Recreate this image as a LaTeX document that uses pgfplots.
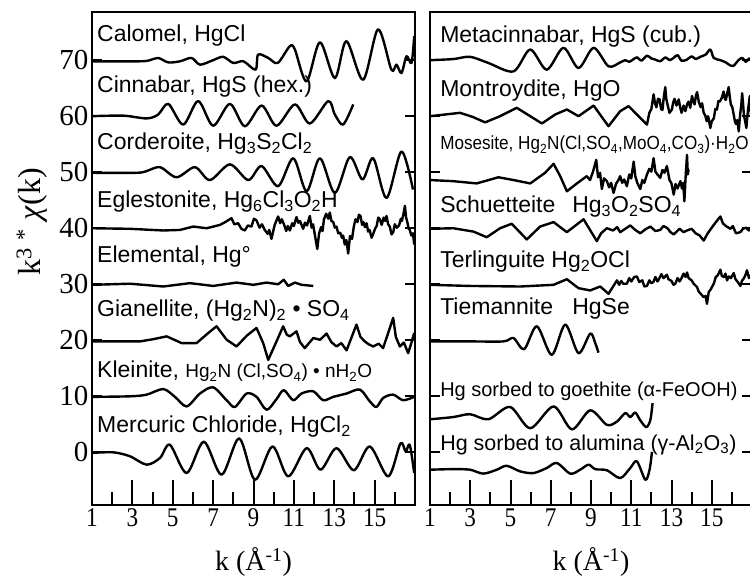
\documentclass[border=0pt]{standalone}
\usepackage{fontspec}
\setmainfont{Liberation Serif}
\newfontfamily\sansfam{Liberation Sans}
\newfontfamily\sanscond[FakeStretch=0.9]{Liberation Sans}
\newfontfamily\xtickfam[FakeStretch=0.86]{Liberation Serif}
\usepackage{pgfplots}
\pgfplotsset{compat=1.18}

\newcommand\lbl{\sansfam\fontsize{23}{23}\selectfont}
\newcommand\lbs{\sansfam\fontsize{19}{19}\selectfont}

\pgfplotsset{
  panel/.style={
    scale only axis, height=493pt,
    xmin=1, xmax=17, ymin=-9.5, ymax=78.5,
    axis line style={line width=2.4pt},
    tick align=inside,
    xtick={1,3,...,15}, minor xtick={2,4,...,16},
    xtick pos=left, ytick pos=both,
    ytick={0,10,...,70},
    major tick length=10pt, minor tick length=13pt,
    xtick style={/pgfplots/major tick length=25pt},
    every tick/.style={black, line width=2pt},
    x tick label style={font=\xtickfam\fontsize{27}{27}\selectfont},
    y tick label style={font=\fontsize{29}{29}\selectfont},
    /pgf/number format/assume math mode=true,
    xlabel={k (Å\textsuperscript{-1})},
    xlabel style={font=\fontsize{28}{28}\selectfont, at={(axis description cs:0.5,-0.132)}, anchor=base},
  },
  spec/.style={black, line width=2.4pt, line join=round, mark=none},
}

\begin{document}
\begin{tikzpicture}
\useasboundingbox (0,0) rectangle (750pt,578pt);

% ---------------- left panel ----------------
\begin{axis}[panel, at={(92pt,73pt)}, anchor=south west, width=323pt,
  ylabel={k\textsuperscript{3} \textsuperscript{*} \textit{χ}(k)},
  ylabel style={font=\fontsize{32}{32}\selectfont, at={(axis description cs:-0.186,0.574)}, anchor=center}]
% Calomel
\addplot[spec, smooth] coordinates {(1,69.7)(3.38,69.7)(3.87,69.9)(4.28,70.3)(4.78,69.5)(5.36,69.7)(5.93,70.3)(6.35,69.1)(7.0,69.9)(7.5,70.5)(8.0,69.4)(8.5,69.7)(9.1,68.2)(9.23,70.9)(9.73,70.3)(10.2,69.4)(10.8,72.4)(11.05,71.8)(11.63,66.1)(12.29,73.1)(13.03,66.7)(13.6,73.3)(14.43,66.4)(15.17,75.4)(15.83,68.2)(16.08,69.1)(16.33,67.6)(16.58,70.6)(16.83,69.4)(16.96,74.2)};
% Cinnabar
\addplot[spec, smooth] coordinates {(1,59.9)(2.55,60.0)(3.71,59.5)(4.28,60.2)(4.78,62.1)(5.52,58.4)(6.26,62.6)(7.0,58.2)(7.83,62.1)(8.57,58.1)(9.4,61.8)(10.14,58.2)(11.05,62.0)(11.79,58.6)(12.7,62.6)(13.03,60.2)(13.44,58.4)(13.94,62.0)};
% Corderoite
\addplot[spec, smooth] coordinates {(1,49.8)(3.21,49.8)(3.7,50.1)(4.37,50.8)(5.19,49.0)(6.1,50.8)(6.84,48.5)(7.83,51.3)(8.74,48.5)(9.4,51.0)(10.22,47.4)(10.97,52.4)(11.63,46.5)(12.29,52.4)(13.03,46.2)(13.77,52.6)(14.4,48.6)(14.93,52.4)(15.59,45.3)(16.33,53.6)(16.9,46.8)};
% Eglestonite
\addplot[spec] coordinates {(1,39.9)(2.88,39.8)(4.53,39.5)(5.36,39.6)(6.02,40.2)(6.68,39.9)(7.34,40.5)(7.6,41.0)(7.91,41.7)(8.05,40.6)(8.24,40.8)(8.4,39.8)(8.57,39.5)(8.72,40.4)(8.9,40.2)(9.02,41.6)(9.15,41.3)(9.3,40.0)(9.42,40.6)(9.56,39.6)(9.7,38.9)(9.78,39.6)(9.89,38.0)(10.05,40.5)(10.22,42.0)(10.32,40.8)(10.4,41.5)(10.5,40.7)(10.62,39.4)(10.7,40.3)(10.8,39.5)(10.92,40.8)(11.0,40.3)(11.13,41.9)(11.22,40.9)(11.3,41.2)(11.46,39.8)(11.55,40.9)(11.65,40.4)(11.79,42.1)(11.88,40.0)(11.95,40.6)(12.05,38.5)(12.16,36.2)(12.25,39.0)(12.35,40.1)(12.42,39.4)(12.49,41.5)(12.6,42.5)(12.7,41.6)(12.78,42.7)(12.86,41.2)(12.95,41.0)(13.03,40.0)(13.11,40.2)(13.2,39.0)(13.3,39.1)(13.38,38.2)(13.44,38.6)(13.52,37.0)(13.6,37.8)(13.69,35.4)(13.78,38.5)(13.88,38.0)(13.97,40.2)(14.05,41.5)(14.15,41.0)(14.22,42.3)(14.3,42.1)(14.38,40.5)(14.45,41.0)(14.52,40.1)(14.6,40.8)(14.68,39.3)(14.75,39.6)(14.85,38.2)(14.93,38.9)(15.02,39.8)(15.1,40.3)(15.18,41.8)(15.26,41.5)(15.35,40.5)(15.45,41.8)(15.52,41.2)(15.59,42.1)(15.67,40.6)(15.75,40.2)(15.84,38.8)(15.92,39.2)(16.0,40.6)(16.1,40.0)(16.21,40.4)(16.3,41.6)(16.35,41.2)(16.42,42.3)(16.5,43.9)(16.56,41.8)(16.62,41.0)(16.68,39.9)(16.74,39.6)(16.82,38.6)(16.9,39.0)(16.96,37.0)};
% Elemental
\addplot[spec] coordinates {(1,29.8)(2.88,30.0)(4.53,29.5)(5.85,30.1)(7.0,29.6)(8.16,30.2)(8.99,29.8)(9.65,30.2)(10.22,29.9)(10.5,30.7)(10.72,29.6)(11.05,30.2)(11.38,29.8)(11.96,29.6)};
% Gianellite
\addplot[spec] coordinates {(1,19.7)(3.38,19.7)(4.04,20.1)(4.7,20.6)(5.44,19.4)(6.18,19.4)(6.76,21.2)(7.17,22.4)(7.67,20.0)(8.16,18.8)(8.66,20.7)(9.15,22.1)(9.48,19.4)(9.73,16.4)(10.14,19.7)(10.47,22.4)(10.65,20.9)(10.8,20.6)(11.13,21.5)(11.3,19.6)(11.54,18.5)(11.96,20.3)(12.3,20.0)(12.62,21.1)(12.85,19.6)(13.11,18.8)(13.35,19.4)(13.61,18.1)(14.1,22.7)(14.3,20.5)(14.51,19.7)(14.7,19.2)(14.93,18.8)(15.2,19.3)(15.42,18.5)(15.92,23.9)(16.05,20.5)(16.25,18.8)(16.45,19.5)(16.66,17.6)(16.8,19.2)(16.96,21.2)};
% Kleinite
\addplot[spec, smooth] coordinates {(1,9.8)(2.88,9.9)(3.71,10.2)(4.53,11.2)(5.11,9.8)(5.69,8.1)(6.35,10.4)(7.0,11.5)(7.67,9.2)(8.08,8.0)(8.66,10.4)(9.15,9.8)(9.65,7.5)(10.14,9.4)(10.5,11.0)(10.97,9.2)(11.38,10.4)(11.96,10.8)(12.45,9.2)(12.95,9.8)(13.61,10.4)(14.27,11.1)(14.76,9.0)(15.09,8.0)(15.42,9.6)(15.92,10.2)(16.41,9.2)(16.96,9.8)};
% Mercuric chloride
\addplot[spec, smooth] coordinates {(1,-0.2)(2.06,-0.1)(2.88,-0.8)(3.71,-2.3)(4.37,-1.1)(4.86,1.25)(5.69,-3.8)(6.54,1.8)(7.42,-4.1)(8.29,2.4)(9.07,-5.0)(9.94,0.95)(10.72,-4.4)(11.63,0.65)(12.32,-3.2)(13.11,0.65)(13.97,-3.3)(14.76,0.95)(15.67,-4.4)(16.28,1.5)(16.54,0.06)(16.74,1.25)(16.96,-3.8)};

\node[anchor=base west, inner sep=0, font=\lbl] at (axis cs:1.25,73.2) {Calomel, HgCl};
\node[anchor=base west, inner sep=0, font=\lbl] at (axis cs:1.25,64.1) {Cinnabar, HgS (hex.)};
\node[anchor=base west, inner sep=0, font=\lbl] at (axis cs:1.25,53.9) {Corderoite, Hg\textsubscript{3}S\textsubscript{2}Cl\textsubscript{2}};
\node[anchor=base west, inner sep=0, font=\lbl] at (axis cs:1.25,43.6) {Eglestonite, Hg\textsubscript{6}Cl\textsubscript{3}O\textsubscript{2}H};
\node[anchor=base west, inner sep=0, font=\lbl] at (axis cs:1.25,33.75) {Elemental, Hg°};
\node[anchor=base west, inner sep=0, font=\lbl] at (axis cs:1.25,24.1) {Gianellite, (Hg\textsubscript{2}N)\textsubscript{2} • SO\textsubscript{4}};
\node[anchor=base west, inner sep=0, font=\lbl] at (axis cs:1.25,13.2) {Kleinite, {\lbs Hg\textsubscript{2}N (Cl,SO\textsubscript{4}) • nH\textsubscript{2}O}};
\node[anchor=base west, inner sep=0, font=\lbl] at (axis cs:1.25,3.4) {Mercuric Chloride, HgCl\textsubscript{2}};
\end{axis}

% ---------------- right panel ----------------
\begin{axis}[panel, at={(430pt,73pt)}, anchor=south west, width=322pt,
  yticklabels={}]
% Metacinnabar
\addplot[spec, smooth] coordinates {(1,69.9)(2.16,70.1)(2.99,70.5)(3.9,69.4)(5.15,67.9)(5.98,71.8)(6.8,68.2)(7.63,72.1)(8.38,68.5)(9.13,72.1)(9.87,68.8)(10.45,69.5)(10.7,69.9)(10.9,69.6)(11.12,70.1)(11.3,70.4)(11.5,69.8)(11.78,70.7)(12.0,70.2)(12.2,70.0)(12.44,69.7)(12.7,70.4)(12.9,69.9)(13.1,70.3)(13.3,70.8)(13.5,69.8)(13.77,70.0)(14.0,70.6)(14.2,70.1)(14.43,70.5)(14.7,70.9)(14.93,71.8)(15.1,70.3)(15.43,69.9)(15.7,69.5)(15.9,69.0)(16.09,68.9)(16.3,69.8)(16.51,70.3)(16.7,69.6)(16.85,70.2)(17,69.9)};
% Montroydite
\addplot[spec] coordinates {(1,59.9)(2.49,60.5)(3.1,59.8)(3.74,58.8)(4.48,59.9)(5.31,61.4)(5.98,59.9)(6.56,58.6)(7.22,60.2)(7.8,61.1)(8.38,59.9)(9.13,61.8)(9.87,58.1)(10.45,60.8)(10.87,61.7)(11.28,60.2)(11.78,58.4)(11.9,60.5)(12.0,61.2)(12.11,63.8)(12.18,62.2)(12.25,61.5)(12.33,63.0)(12.41,62.9)(12.48,61.2)(12.55,61.0)(12.62,63.4)(12.69,65.1)(12.74,63.0)(12.8,62.0)(12.9,60.5)(13.02,61.1)(13.08,62.3)(13.15,63.0)(13.25,61.8)(13.36,62.9)(13.43,61.5)(13.5,60.5)(13.6,61.8)(13.69,60.8)(13.77,62.0)(13.85,62.5)(13.93,61.4)(14.02,63.5)(14.08,62.6)(14.15,62.0)(14.21,63.5)(14.27,64.2)(14.36,62.4)(14.45,61.5)(14.52,62.2)(14.6,60.5)(14.68,60.0)(14.75,59.0)(14.82,59.9)(14.93,57.8)(15.0,59.0)(15.1,59.5)(15.18,61.2)(15.26,61.1)(15.33,62.6)(15.4,62.5)(15.5,63.2)(15.59,64.3)(15.65,63.0)(15.7,62.8)(15.77,64.0)(15.84,65.1)(15.9,63.2)(15.95,62.0)(16.02,61.5)(16.09,60.2)(16.15,59.0)(16.2,58.5)(16.27,59.2)(16.34,57.2)(16.38,59.0)(16.42,60.5)(16.47,62.0)(16.51,64.0)(16.55,62.4)(16.6,60.0)(16.66,59.0)(16.72,57.8)(16.76,59.5)(16.8,61.0)(16.85,62.3)(16.89,63.5)(16.92,61.5)(16.95,60.0)(17,59.3)};
% Mosesite
\addplot[spec] coordinates {(1,48.5)(2.16,48.3)(3.32,47.9)(4.4,49.0)(5.15,48.5)(5.98,47.9)(6.72,49.8)(7.14,51.4)(7.47,49.2)(7.8,46.5)(8.3,47.9)(8.79,49.2)(8.95,48.5)(9.1,50.0)(9.26,52.1)(9.35,49.0)(9.45,49.8)(9.54,46.9)(9.65,48.8)(9.79,48.3)(9.9,47.2)(10.0,48.0)(10.12,46.2)(10.25,47.9)(10.35,48.4)(10.45,49.2)(10.55,48.0)(10.65,48.6)(10.78,47.4)(10.9,49.5)(11.0,48.8)(11.12,51.8)(11.2,49.2)(11.3,48.0)(11.45,46.9)(11.55,48.5)(11.65,48.0)(11.78,49.5)(11.9,50.5)(12.0,50.0)(12.11,52.4)(12.2,50.0)(12.3,49.5)(12.44,48.9)(12.55,50.3)(12.65,49.8)(12.77,51.0)(12.9,48.5)(13.0,47.9)(13.11,45.9)(13.2,47.8)(13.3,47.0)(13.44,48.3)(13.52,47.0)(13.58,48.0)(13.64,44.7)(13.7,49.0)(13.77,53.0)(13.81,49.5)(13.85,50.4)};
% Schuetteite
\addplot[spec] coordinates {(1,39.8)(2.16,39.9)(3.16,39.3)(3.82,38.3)(4.48,39.9)(5.06,40.7)(5.81,37.9)(6.47,40.2)(7.14,41.0)(7.8,39.2)(8.63,41.5)(9.29,37.6)(9.5,39.0)(9.79,39.9)(10.1,39.5)(10.3,40.1)(10.45,39.2)(10.7,39.8)(10.95,40.4)(11.2,39.6)(11.45,39.0)(11.7,39.7)(11.95,40.2)(12.2,39.4)(12.44,39.6)(12.6,40.3)(12.8,39.9)(12.95,39.2)(13.11,38.8)(13.4,39.8)(13.6,39.2)(13.77,39.5)(14.0,39.8)(14.2,39.0)(14.4,38.6)(14.6,37.7)(14.8,39.0)(15.1,40.5)(15.25,41.2)(15.43,42.0)(15.55,40.8)(15.7,40.3)(15.93,39.8)(16.05,40.3)(16.2,39.0)(16.42,39.2)(16.55,39.8)(16.7,40.0)(16.85,39.5)(17,40.4)};
% Terlinguite
\addplot[spec] coordinates {(1,29.8)(2.99,29.6)(5.48,29.5)(7.14,29.8)(7.8,30.8)(8.38,29.2)(8.96,28.8)(9.46,29.5)(9.87,28.2)(10.29,30.6)(10.4,29.8)(10.5,30.5)(10.6,30.0)(10.78,30.0)(10.9,31.0)(11.0,30.4)(11.15,31.2)(11.28,31.3)(11.4,30.3)(11.55,30.6)(11.65,29.5)(11.78,29.6)(11.9,30.6)(12.0,30.1)(12.1,30.3)(12.2,31.2)(12.3,30.4)(12.36,30.7)(12.5,31.7)(12.6,31.0)(12.77,31.6)(12.85,30.8)(13.0,30.5)(13.1,29.8)(13.19,30.0)(13.3,31.0)(13.4,30.4)(13.5,31.0)(13.6,31.8)(13.7,31.2)(13.77,32.0)(13.85,31.0)(14.0,30.6)(14.1,30.0)(14.27,29.4)(14.35,28.6)(14.5,28.0)(14.6,27.6)(14.7,27.8)(14.76,26.4)(14.85,28.5)(14.95,29.0)(15.1,30.0)(15.2,31.2)(15.3,31.5)(15.43,32.5)(15.5,31.4)(15.6,31.2)(15.68,31.8)(15.76,30.6)(15.85,31.3)(15.95,31.0)(16.09,31.9)(16.18,30.8)(16.25,30.5)(16.35,30.0)(16.42,29.6)(16.5,30.5)(16.6,31.0)(16.68,31.6)(16.75,32.4)(16.85,31.0)(16.92,31.5)(17,30.7)};
% Tiemannite
\addplot[spec, smooth] coordinates {(1,19.7)(2.99,19.7)(4.65,19.7)(5.15,20.3)(5.68,18.3)(6.31,22.4)(7.05,17.3)(7.72,22.7)(8.38,17.6)(8.96,21.1)(9.21,19.4)(9.37,17.7)};
% goethite
\addplot[spec, smooth] coordinates {(1,5.8)(2.16,6.2)(2.99,6.7)(3.9,5.8)(4.98,8.0)(5.98,4.2)(7.14,8.1)(8.05,4.0)(8.96,7.4)(9.79,4.8)(10.29,5.4)(10.7,6.9)(10.95,6.2)(11.2,7.0)(11.45,5.6)(11.75,4.4)(11.95,5.7)(12.06,8.7)};
% alumina
\addplot[spec, smooth] coordinates {(1,-3.2)(2.16,-3.1)(2.99,-3.2)(3.65,-3.9)(4.32,-3.2)(4.81,-2.5)(5.48,-3.5)(6.14,-3.8)(6.8,-2.9)(7.3,-2.0)(7.97,-3.9)(8.46,-3.2)(8.88,-2.3)(9.21,-3.1)(9.79,-3.3)(10.45,-4.7)(10.95,-2.9)(11.28,-1.7)(11.7,-5.0)(11.91,-3.2)(12.03,0.0)};

\node[anchor=base west, inner sep=0, font=\lbl] at (axis cs:1.5,73.0) {Metacinnabar, HgS (cub.)};
\node[anchor=base west, inner sep=0, font=\lbl] at (axis cs:1.5,63.4) {Montroydite, HgO};
\node[anchor=base west, inner sep=0, font=\sanscond\fontsize{19}{19}\selectfont] at (axis cs:1.5,53.9) {Mosesite, Hg\textsubscript{2}N(Cl,SO\textsubscript{4},MoO\textsubscript{4},CO\textsubscript{3})·H\textsubscript{2}O};
\node[anchor=base west, inner sep=0, font=\lbl] at (axis cs:1.5,42.7) {Schuetteite};
\node[anchor=base west, inner sep=0, font=\lbl] at (axis cs:8.06,42.7) {Hg\textsubscript{3}O\textsubscript{2}SO\textsubscript{4}};
\node[anchor=base west, inner sep=0, font=\lbl] at (axis cs:1.5,32.9) {Terlinguite Hg\textsubscript{2}OCl};
\node[anchor=base west, inner sep=0, font=\lbl] at (axis cs:1.5,24.5) {Tiemannite};
\node[anchor=base west, inner sep=0, font=\lbl] at (axis cs:8.06,24.5) {HgSe};
\node[anchor=base west, inner sep=0, font=\sansfam\fontsize{20}{20}\selectfont] at (axis cs:1.5,9.8) {Hg sorbed to goethite (α-FeOOH)};
\node[anchor=base west, inner sep=0, font=\sansfam\fontsize{21.5}{21.5}\selectfont] at (axis cs:1.5,0.3) {Hg sorbed to alumina (γ-Al\textsubscript{2}O\textsubscript{3})};
\end{axis}
\end{tikzpicture}
\end{document}
